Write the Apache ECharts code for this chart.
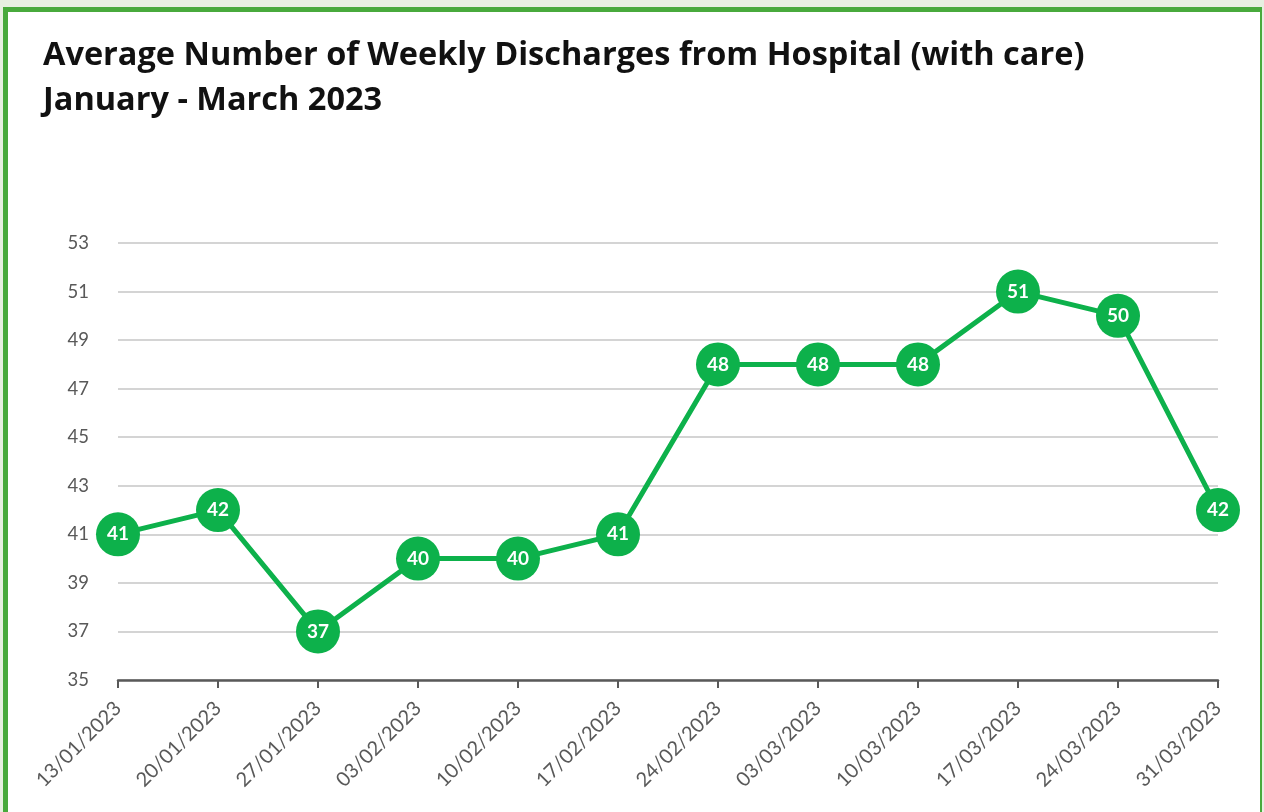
<!DOCTYPE html>
<html>
<head>
<meta charset="utf-8">
<script src="https://cdn.jsdelivr.net/npm/echarts@6/dist/echarts.min.js"></script>
<style>
  html, body { margin: 0; padding: 0; width: 1264px; height: 812px; overflow: hidden; background: #e7f0e1; }
  #frame { position: absolute; left: 3px; top: 7px; width: 1252px; height: 812px;
           background: #ffffff; border-left: 5px solid #48aa3c; border-top: 5px solid #48aa3c; border-right: 2px solid #48aa3c; }
  #chart { position: absolute; left: 0; top: 0; width: 1264px; height: 812px; }
</style>
</head>
<body>
<div id="frame"></div>
<div id="chart"></div>
<script>
// Weekly averages, January - March 2023
const weeks = ['13/01/2023', '20/01/2023', '27/01/2023', '03/02/2023', '10/02/2023', '17/02/2023',
               '24/02/2023', '03/03/2023', '10/03/2023', '17/03/2023', '24/03/2023', '31/03/2023'];
const discharges = [41, 42, 37, 40, 40, 41, 48, 48, 48, 51, 50, 42];
const yMin = 35, yMax = 53, yStep = 2;

const green = '#0db14b';
const axisGrey = '#595959';

const chart = echarts.init(document.getElementById('chart'), null, { renderer: 'canvas' });
chart.setOption({
  backgroundColor: 'transparent',
  animation: false,
  title: {
    text: 'Average Number of Weekly Discharges from Hospital (with care)\nJanuary - March 2023',
    left: 38,
    top: 28,
    textStyle: {
      fontFamily: 'Open Sans',
      fontWeight: 'bold',
      fontSize: 32.5,
      lineHeight: 45,
      color: '#111111'
    }
  },
  grid: { left: 118, right: 46, top: 243, bottom: 132, containLabel: false },
  xAxis: {
    type: 'category',
    data: weeks,
    boundaryGap: false,
    axisLine: { lineStyle: { color: axisGrey, width: 2.5 } },
    axisTick: { alignWithLabel: true, length: 8, lineStyle: { color: axisGrey, width: 2 } },
    axisLabel: {
      rotate: 45,
      margin: 25,
      color: axisGrey,
      fontFamily: 'Lato',
      fontSize: 20
    },
    splitLine: { show: false }
  },
  yAxis: {
    type: 'value',
    min: yMin,
    max: yMax,
    interval: yStep,
    axisLine: { show: false },
    axisTick: { show: false },
    axisLabel: { color: axisGrey, fontFamily: 'Lato', fontSize: 18.5, margin: 29 },
    splitLine: { lineStyle: { color: '#c6c6c6', width: 1.5 } }
  },
  series: [{
    type: 'line',
    data: discharges,
    symbol: 'circle',
    symbolSize: 44,
    lineStyle: { color: green, width: 5 },
    itemStyle: { color: green },
    label: {
      show: true,
      position: 'inside',
      color: '#ffffff',
      fontFamily: 'Lato',
      fontWeight: 'bold',
      fontSize: 19
    }
  }]
});
</script>
</body>
</html>
